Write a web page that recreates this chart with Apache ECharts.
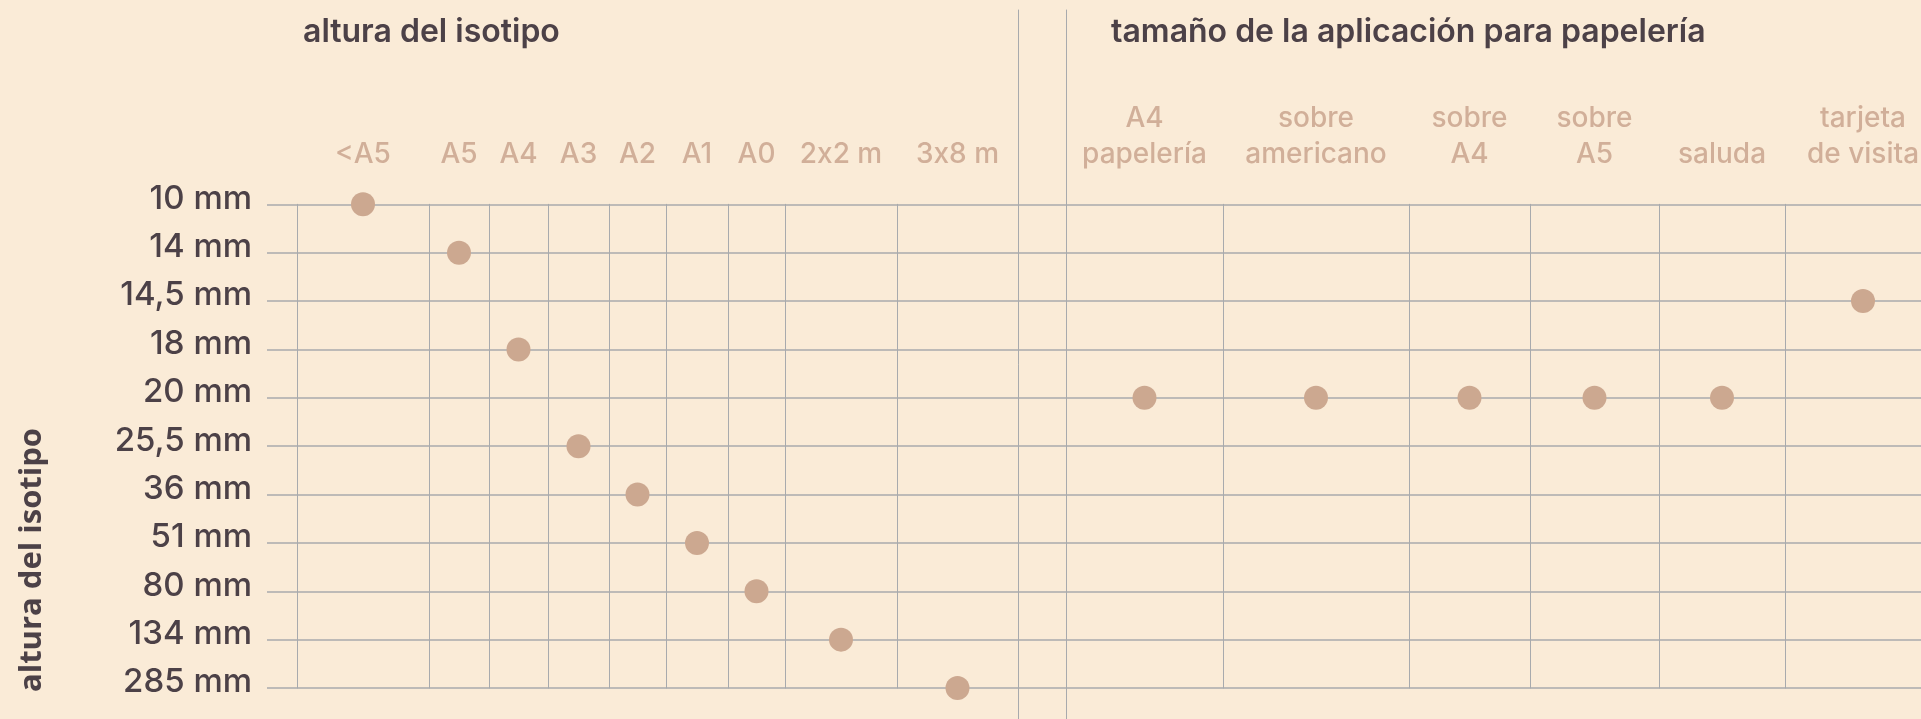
<!DOCTYPE html>
<html><head><meta charset="utf-8">
<script src="https://cdn.jsdelivr.net/npm/echarts@6/dist/echarts.min.js"></script>
<style>html,body{margin:0;padding:0;background:#FAEBD7;} #c{width:1921px;height:719px;}</style>
</head><body><div id="c"></div>
<script>
// ---- data ----
const alturas = ['10 mm','14 mm','14,5 mm','18 mm','20 mm','25,5 mm','36 mm','51 mm','80 mm','134 mm','285 mm'];
const formatos = ['<A5','A5','A4','A3','A2','A1','A0','2x2 m','3x8 m'];
const alturaPorFormato = ['10 mm','14 mm','18 mm','25,5 mm','36 mm','51 mm','80 mm','134 mm','285 mm'];
const aplicaciones = ['A4\npapelería','sobre\namericano','sobre\nA4','sobre\nA5','saluda','tarjeta\nde visita'];
const alturaPorAplicacion = ['20 mm','20 mm','20 mm','20 mm','20 mm','14,5 mm'];
const tituloIzq = 'altura del isotipo';
const tituloDer = 'tamaño de la aplicación para papelería';
const tituloEje = 'altura del isotipo';

// ---- layout (column edges in px) ----
const bordesFormatos = [297, 429, 489, 548, 609, 666, 728, 785, 897, 1018];
const bordesAplicaciones = [1066, 1223, 1409, 1530, 1659, 1785, 1941];
const PLOT_TOP = 204.3, PLOT_H = 483.7;

const C_BG = '#FAEBD7', C_GRID = '#A8AAAD', C_DOT = '#CCA890', C_CAT = '#D1AF99', C_DARK = '#4C4147';
const FONT = 'Inter';
const catStyle = {color: C_CAT, fontFamily: FONT, fontWeight: 500, fontSize: 28, lineHeight: 36};

const grids = [], xAxes = [], yAxes = [], series = [];

// base grid: horizontal lines + y labels
grids.push({left: 267, top: PLOT_TOP, width: 1921 - 267 + 20, height: PLOT_H, containLabel: false, outerBoundsMode: 'none'});
xAxes.push({gridIndex: 0, type: 'category', data: [''], show: false});
yAxes.push({
  gridIndex: 0, type: 'category', data: alturas, inverse: true, boundaryGap: false,
  axisLine: {show: false}, axisTick: {show: false},
  splitLine: {show: true, lineStyle: {color: C_GRID, width: 1.5}},
  axisLabel: {show: true, margin: 15, color: C_DARK, fontFamily: FONT, fontWeight: 500, fontSize: 33,
              verticalAlign: 'bottom', lineHeight: 11}
});

// separator grid (two full-height lines)
grids.push({left: 1018, top: 10, width: 48, height: 740, containLabel: false, outerBoundsMode: 'none'});
xAxes.push({gridIndex: 1, type: 'value', show: false});
['left', 'right'].forEach(pos => yAxes.push({
  gridIndex: 1, type: 'value', position: pos, min: 0, max: 1,
  axisLine: {show: true, lineStyle: {color: C_GRID, width: 1}},
  axisTick: {show: false}, axisLabel: {show: false}, splitLine: {show: false}
}));

// draw "x" between digits as its own text run so the font does not turn it into "×"
const fmtCat = v => v.replace(/(\d)x(\d)/g, '$1{n|x}$2');

function addColumn(label, altura, left, right) {
  const gi = grids.length;
  grids.push({left: left, top: PLOT_TOP, width: right - left, height: PLOT_H, containLabel: false, outerBoundsMode: 'none'});
  const xi = xAxes.length, yi = yAxes.length;
  xAxes.push({
    gridIndex: gi, type: 'category', data: [label], position: 'top',
    axisLine: {show: false}, axisTick: {show: false}, splitLine: {show: false},
    axisLabel: Object.assign({interval: 0, margin: 32, formatter: fmtCat, rich: {n: Object.assign({}, catStyle)}}, catStyle)
  });
  yAxes.push({
    gridIndex: gi, type: 'category', data: alturas, inverse: true, boundaryGap: false,
    axisLine: {show: true, lineStyle: {color: C_GRID, width: 1}},
    axisTick: {show: false}, axisLabel: {show: false}, splitLine: {show: false}
  });
  series.push({
    type: 'scatter', xAxisIndex: xi, yAxisIndex: yi, data: [[label, altura]],
    symbolSize: 24, itemStyle: {color: C_DOT, opacity: 1}, clip: false, silent: true, z: 5
  });
}
formatos.forEach((f, i) => addColumn(f, alturaPorFormato[i], bordesFormatos[i], bordesFormatos[i + 1]));
aplicaciones.forEach((a, i) => addColumn(a, alturaPorAplicacion[i], bordesAplicaciones[i], bordesAplicaciones[i + 1]));

const chart = echarts.init(document.getElementById('c'), null, {renderer: 'canvas'});
chart.setOption({
  backgroundColor: C_BG,
  animation: false,
  textStyle: {fontFamily: FONT},
  title: [
    {text: tituloIzq, left: 303, top: 16, padding: 0, textStyle: {color: C_DARK, fontFamily: FONT, fontWeight: 600, fontSize: 32, lineHeight: 32}},
    {text: tituloDer, left: 1111, top: 16, padding: 0, textStyle: {color: C_DARK, fontFamily: FONT, fontWeight: 600, fontSize: 32, lineHeight: 32}}
  ],
  graphic: [{
    type: 'text', x: 32, y: 560, rotation: Math.PI / 2, silent: true,
    style: {text: tituloEje, fill: C_DARK, font: '700 31px "Open Sans"', align: 'center', verticalAlign: 'middle'}
  }],
  grid: grids, xAxis: xAxes, yAxis: yAxes, series: series
});
</script></body></html>
